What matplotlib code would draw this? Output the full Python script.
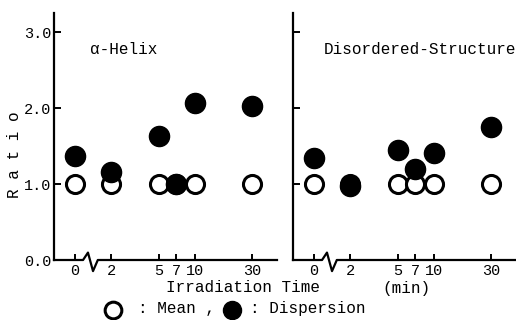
import matplotlib.pyplot as plt
import numpy as np
from matplotlib.lines import Line2D

# Bestrahlungszeit (min) und Werte
times = [0, 2, 5, 7, 10, 30]
time_labels = ["0", "2", "5", "7", "10", "30"]
helix_mean = [1.0, 1.0, 1.0, 1.0, 1.0, 1.0]
helix_disp = [1.37, 1.16, 1.63, 1.0, 2.07, 2.03]
disord_mean = [1.0, 1.0, 1.0, 1.0, 1.0, 1.0]
disord_disp = [1.34, 0.97, 1.45, 1.2, 1.41, 1.75]

plt.rcParams['font.family'] = ['Liberation Mono', 'DejaVu Sans Mono']

W, H = 516, 320
fig = plt.figure(figsize=(W / 100, H / 100), dpi=100)


def pos(t):
    # log-Achse, 0 wird bei 1 gezeichnet
    return np.log10(np.maximum(np.asarray(t, dtype=float), 1.0))


def panel(rect, mean, disp, ylabels):
    ax = fig.add_axes(rect)
    x = pos(times)
    ax.plot(x, mean, 'o', ms=13, mfc='white', mec='black', mew=2.2, zorder=3, clip_on=False)
    ax.plot(x, disp, 'o', ms=14.5, mfc='black', mec='black', zorder=4, clip_on=False)
    ax.set_xlim(-0.175, 1.683)
    ax.set_ylim(0, 3.25)
    for s in ['top', 'right', 'bottom']:
        ax.spines[s].set_visible(False)
    ax.spines['left'].set_linewidth(1.6)
    # x-Achse mit Bruch zwischen 0 und 2
    tr = ax.get_xaxis_transform()
    bx = [-0.175, 0.067, 0.108, 0.15, 0.19, 1.683]
    by = [0, 0, 0.03, -0.045, 0, 0]
    ax.plot(bx, by, color='black', lw=1.6, transform=tr, clip_on=False, zorder=5)
    ax.set_xticks(x)
    ax.set_xticklabels(time_labels)
    ax.set_yticks([0, 1, 2, 3])
    if ylabels:
        ax.set_yticklabels(["0.0", "1.0", "2.0", "3.0"])
    else:
        ax.set_yticklabels([])
    ax.tick_params(axis='both', direction='in', width=1.4, labelsize=11, colors='black')
    ax.tick_params(axis='x', length=4, pad=3)
    ax.tick_params(axis='y', length=5, pad=2)
    ax.patch.set_visible(False)
    return ax


ax1 = panel([54 / W, 60 / H, 223 / W, 247 / H], helix_mean, helix_disp, True)
ax2 = panel([293 / W, 60 / H, 223 / W, 247 / H], disord_mean, disord_disp, False)

fig.text(90 / W, 1 - 49 / H, "α-Helix", fontsize=11.5, va='center', ha='left')
fig.text(324 / W, 1 - 49 / H, "Disordered-Structure", fontsize=11.5, va='center', ha='left')

fig.text(15 / W, 1 - 155 / H, "R a t i o", rotation=90, fontsize=11.5, va='center', ha='center')
fig.text(166 / W, 1 - 288 / H, "Irradiation Time", fontsize=11.5, va='center', ha='left')
fig.text(382 / W, 1 - 288 / H, "(min)", fontsize=11.5, va='center', ha='left')

# Legende unten
fig.add_artist(Line2D([113 / W], [1 - 310 / H], marker='o', ms=12, mfc='white', mec='black',
                      mew=2.2, transform=fig.transFigure))
fig.add_artist(Line2D([232 / W], [1 - 310 / H], marker='o', ms=13, mfc='black', mec='black',
                      transform=fig.transFigure))
fig.text(138 / W, 1 - 309 / H, ": Mean ,", fontsize=11.5, va='center', ha='left')
fig.text(250 / W, 1 - 309 / H, ": Dispersion", fontsize=11.5, va='center', ha='left')

fig.savefig("out.png", dpi=100)
